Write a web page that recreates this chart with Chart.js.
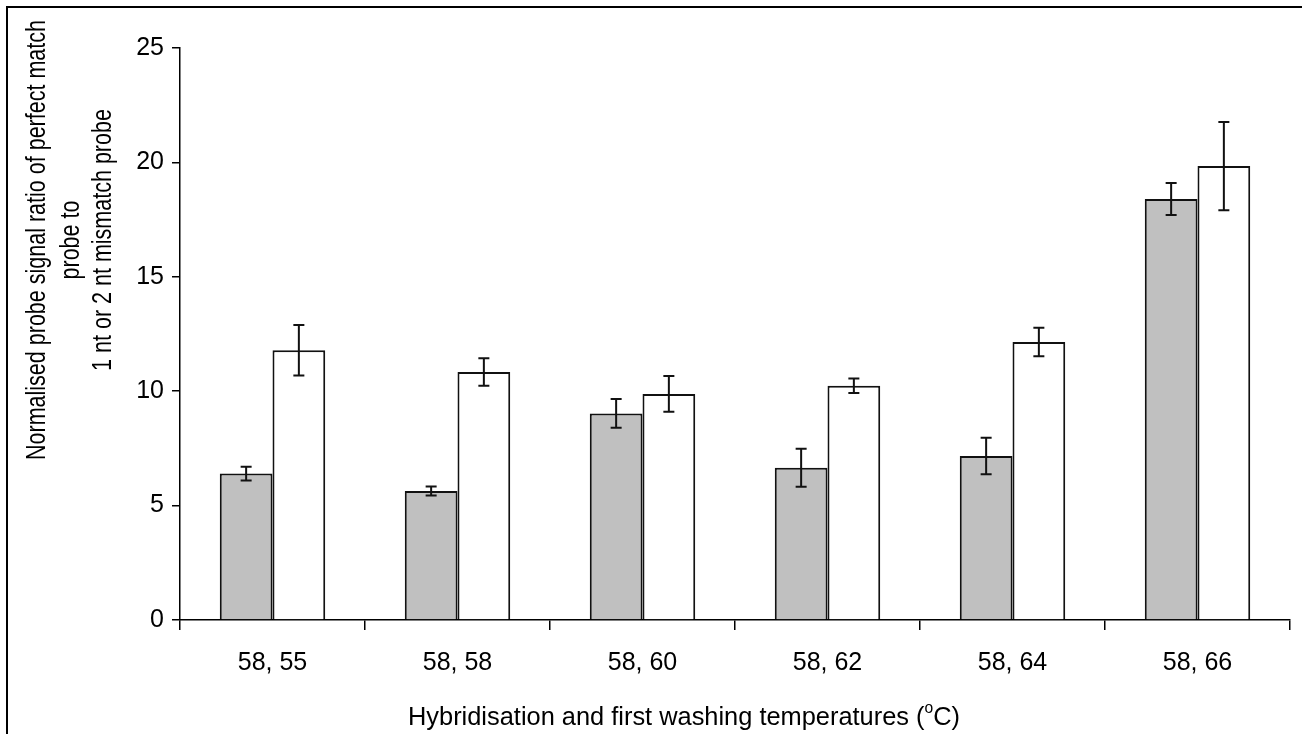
<!DOCTYPE html>
<html>
<head>
<meta charset="utf-8">
<script src="https://cdn.jsdelivr.net/npm/chart.js@4"></script>
<style>
  body { margin: 0; background: #fff; }
  #wrap { width: 1302px; height: 734px; }
</style>
</head>
<body>
<div id="wrap"><canvas id="ratioChart" width="1302" height="734"></canvas></div>
<script>
// data
const categories = ["58, 55", "58, 58", "58, 60", "58, 62", "58, 64", "58, 66"];
const oneNt = [6.4, 5.64, 9.03, 6.65, 7.17, 18.4];
const oneNtErr = [0.3, 0.2, 0.63, 0.83, 0.8, 0.7];
const twoNt = [11.79, 10.84, 9.88, 10.24, 12.15, 19.84];
const twoNtErr = [1.1, 0.6, 0.78, 0.32, 0.62, 1.93];
const yTicks = [0, 5, 10, 15, 20, 25];

const yTitle = [
    "Normalised probe signal ratio of perfect match",
    "probe to",
    "1 nt or 2 nt mismatch probe"
];
const xTitle = "Hybridisation and first washing temperatures (";

const errors = [oneNtErr, twoNtErr];

const FONT = "'Liberation Sans', Arial, sans-serif";

// ==========================
// ERROR BARS + TITLES
// ==========================

const errorBars = {
    id: "errorBars",
    afterDatasetsDraw(chart) {
        const ctx = chart.ctx;
        const y = chart.scales.y;
        ctx.save();
        ctx.strokeStyle = "#111";
        ctx.lineWidth = 2;
        chart.data.datasets.forEach((ds, d) => {
            const meta = chart.getDatasetMeta(d);
            meta.data.forEach((bar, i) => {
                const v = ds.data[i];
                const e = errors[d][i];
                const top = y.getPixelForValue(v + e);
                const bot = y.getPixelForValue(v - e);
                ctx.beginPath();
                ctx.moveTo(bar.x, top);
                ctx.lineTo(bar.x, bot);
                ctx.moveTo(bar.x - 5.5, top);
                ctx.lineTo(bar.x + 5.5, top);
                ctx.moveTo(bar.x - 5.5, bot);
                ctx.lineTo(bar.x + 5.5, bot);
                ctx.stroke();
            });
        });
        ctx.restore();
    }
};

const titles = {
    id: "titles",
    afterDraw(chart) {
        const ctx = chart.ctx;
        ctx.save();
        ctx.fillStyle = "#000";

        // frame: top and left edges only
        ctx.strokeStyle = "#000";
        ctx.lineWidth = 2;
        ctx.beginPath();
        ctx.moveTo(7, 734);
        ctx.lineTo(7, 7);
        ctx.lineTo(1302, 7);
        ctx.stroke();

        // y title, narrow lettering
        ctx.font = "27px " + FONT;
        ctx.textAlign = "center";
        ctx.textBaseline = "middle";
        const sx = 440 / ctx.measureText(yTitle[0]).width;
        const cx = [38, 72, 104];
        yTitle.forEach((line, i) => {
            ctx.save();
            ctx.translate(cx[i], 240);
            ctx.rotate(-Math.PI / 2);
            ctx.scale(sx, 1);
            ctx.fillText(line, 0, 0);
            ctx.restore();
        });

        // x title with superscript o
        ctx.save();
        ctx.textAlign = "left";
        ctx.font = "26px " + FONT;
        const w1 = ctx.measureText(xTitle).width;
        ctx.font = "16px " + FONT;
        const wo = ctx.measureText("o").width;
        ctx.font = "26px " + FONT;
        const w2 = ctx.measureText("C)").width;
        const s = 552 / (w1 + wo + w2);
        ctx.translate(408, 718);
        ctx.scale(s, 1);
        ctx.fillText(xTitle, 0, 0);
        ctx.font = "16px " + FONT;
        ctx.fillText("o", w1, -9);
        ctx.font = "26px " + FONT;
        ctx.fillText("C)", w1 + wo, 0);
        ctx.restore();

        ctx.restore();
    }
};

// ==========================
// CHART
// ==========================

new Chart(document.getElementById("ratioChart"), {
    type: "bar",
    data: {
        labels: categories,
        datasets: [
            {
                label: "1 nt",
                data: oneNt,
                backgroundColor: "#c0c0c0",
                borderColor: "#111",
                borderWidth: 2
            },
            {
                label: "2 nt",
                data: twoNt,
                backgroundColor: "#ffffff",
                borderColor: "#111",
                borderWidth: 2
            }
        ]
    },
    options: {
        responsive: false,
        devicePixelRatio: 1,
        animation: false,
        layout: {
            padding: { left: 0, top: 48, right: 12, bottom: 0 }
        },
        plugins: {
            legend: { display: false },
            tooltip: { enabled: false }
        },
        datasets: {
            bar: {
                categoryPercentage: 0.57,
                barPercentage: 1
            }
        },
        scales: {
            x: {
                grid: {
                    offset: true,
                    drawOnChartArea: false,
                    tickLength: 10,
                    color: "#000",
                    lineWidth: 1.5
                },
                border: { color: "#000", width: 1.5 },
                ticks: {
                    color: "#000",
                    padding: 18,
                    font: { family: FONT, size: 25 }
                },
                afterFit(scale) {
                    scale.height = 114;
                }
            },
            y: {
                min: 0,
                max: 25,
                afterBuildTicks(scale) {
                    scale.ticks = yTicks.map(v => ({ value: v }));
                },
                grid: {
                    drawOnChartArea: false,
                    tickLength: 8,
                    color: "#000",
                    lineWidth: 1.5
                },
                border: { color: "#000", width: 1.5 },
                ticks: {
                    color: "#000",
                    padding: 8,
                    font: { family: FONT, size: 25 }
                },
                afterFit(scale) {
                    scale.width = 180;
                }
            }
        }
    },
    plugins: [errorBars, titles]
});
</script>
</body>
</html>
